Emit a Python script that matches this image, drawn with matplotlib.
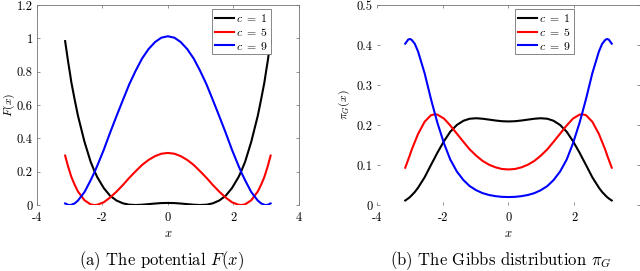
import numpy as np
import matplotlib
matplotlib.use('Agg')
import matplotlib.pyplot as plt
from matplotlib.ticker import FuncFormatter

plt.rcParams['font.family'] = ['cmr10', 'DejaVu Serif']
plt.rcParams['mathtext.fontset'] = 'cm'
plt.rcParams['axes.unicode_minus'] = False
plt.rcParams['axes.formatter.use_mathtext'] = True

# %% data
x = [-3.14, -3.05, -3.00, -2.95, -2.85, -2.75, -2.55, -2.36, -2.25, -2.16, -1.96,
     -1.77, -1.57, -1.37, -1.18, -0.98, -0.79, -0.59, -0.39, -0.20, 0.00,
     0.20, 0.39, 0.59, 0.79, 0.98, 1.18, 1.37, 1.57, 1.77, 1.96,
     2.16, 2.25, 2.36, 2.55, 2.75, 2.85, 2.95, 3.00, 3.05, 3.14]
labels = [r'$c\;=\;1$', r'$c\;=\;5$', r'$c\;=\;9$']
colors = ['k', (1, 0, 0), (0, 0, 1)]

F_c1 = [0.9834, 0.8617, 0.8000, 0.7362, 0.6341, 0.5373, 0.3803, 0.2590, 0.2063, 0.1679, 0.1019,
        0.0563, 0.0269, 0.0099, 0.0019, 0.0000, 0.0018, 0.0053, 0.0089, 0.0116, 0.0125,
        0.0116, 0.0089, 0.0053, 0.0018, 0.0000, 0.0019, 0.0099, 0.0269, 0.0563, 0.1019,
        0.1679, 0.2063, 0.2590, 0.3803, 0.5373, 0.6341, 0.7362, 0.8000, 0.8617, 0.9834]
F_c5 = [0.2964, 0.2314, 0.2000, 0.1688, 0.1219, 0.0817, 0.0287, 0.0038, 0.0000, 0.0014, 0.0164,
        0.0441, 0.0802, 0.1210, 0.1631, 0.2036, 0.2402, 0.2706, 0.2935, 0.3077, 0.3125,
        0.3077, 0.2935, 0.2706, 0.2402, 0.2036, 0.1631, 0.1210, 0.0802, 0.0441, 0.0164,
        0.0014, 0.0000, 0.0038, 0.0287, 0.0817, 0.1219, 0.1688, 0.2000, 0.2314, 0.2964]
F_c9 = [0.0095, 0.0011, 0.0000, 0.0013, 0.0096, 0.0261, 0.0772, 0.1486, 0.1938, 0.2349, 0.3308,
        0.4318, 0.5334, 0.6321, 0.7243, 0.8073, 0.8785, 0.9359, 0.9781, 1.0039, 1.0125,
        1.0039, 0.9781, 0.9359, 0.8785, 0.8073, 0.7243, 0.6321, 0.5334, 0.4318, 0.3308,
        0.2349, 0.1938, 0.1486, 0.0772, 0.0261, 0.0096, 0.0013, 0.0000, 0.0011, 0.0095]

pi_c1 = [0.0113, 0.0164, 0.0197, 0.0238, 0.0324, 0.0433, 0.0693, 0.0997, 0.1168, 0.1311, 0.1598,
         0.1832, 0.2001, 0.2106, 0.2157, 0.2169, 0.2157, 0.2135, 0.2112, 0.2095, 0.2089,
         0.2095, 0.2112, 0.2135, 0.2157, 0.2169, 0.2157, 0.2106, 0.2001, 0.1832, 0.1598,
         0.1311, 0.1168, 0.0997, 0.0693, 0.0433, 0.0324, 0.0238, 0.0197, 0.0164, 0.0113]
pi_c5 = [0.0933, 0.1133, 0.1245, 0.1368, 0.1574, 0.1776, 0.2082, 0.2243, 0.2269, 0.2259, 0.2160,
         0.1988, 0.1784, 0.1579, 0.1391, 0.1232, 0.1104, 0.1007, 0.0941, 0.0901, 0.0889,
         0.0901, 0.0941, 0.1007, 0.1104, 0.1232, 0.1391, 0.1579, 0.1784, 0.1988, 0.2160,
         0.2259, 0.2269, 0.2243, 0.2082, 0.1776, 0.1574, 0.1368, 0.1245, 0.1133, 0.0933]
pi_c9 = [0.4034, 0.4136, 0.4150, 0.4133, 0.4032, 0.3838, 0.3293, 0.2657, 0.2320, 0.2051, 0.1538,
         0.1136, 0.0837, 0.0623, 0.0473, 0.0369, 0.0298, 0.0250, 0.0221, 0.0204, 0.0199,
         0.0204, 0.0221, 0.0250, 0.0298, 0.0369, 0.0473, 0.0623, 0.0837, 0.1136, 0.1538,
         0.2051, 0.2320, 0.2657, 0.3293, 0.3838, 0.4032, 0.4133, 0.4150, 0.4136, 0.4034]

# %% figure
fig = plt.figure(figsize=(6.4, 2.71), dpi=100)
ax1 = fig.add_axes([0.0578, 0.2435, 0.409, 0.738])
ax2 = fig.add_axes([0.589, 0.2435, 0.411, 0.738])

fmt = FuncFormatter(lambda v, pos: '%g' % v)
fs = 9


def style(ax, ylim, yticks, xticks, ylabel, leg_x, ylab_x):
    ax.set_xlim(-4, 4)
    ax.set_ylim(*ylim)
    ax.set_xticks(xticks)
    ax.set_yticks(yticks)
    ax.xaxis.set_major_formatter(fmt)
    ax.yaxis.set_major_formatter(fmt)
    ax.tick_params(direction='in', length=2.5, width=0.5, color='0.4',
                   top=True, right=True, labelsize=fs, pad=3)
    ax.tick_params(axis='x', pad=5)
    for s in ax.spines.values():
        s.set_linewidth(0.6)
        s.set_color('0.45')
    ax.spines['bottom'].set_visible(False)
    ax.set_xlabel('$x$', fontsize=fs)
    ax.set_ylabel(ylabel, fontsize=8.5)
    ax.xaxis.set_label_coords(0.5, -0.115)
    ax.yaxis.set_label_coords(ylab_x, 0.5)
    leg = ax.legend(loc='upper left', bbox_to_anchor=(leg_x, 0.98), fontsize=8.5,
                    handlelength=1.6, handletextpad=0.2, labelspacing=0.15,
                    borderpad=0.25, borderaxespad=0, fancybox=False, framealpha=1)
    leg.get_frame().set_edgecolor('0.45')
    leg.get_frame().set_linewidth(0.6)


for vals, lab, col in zip([F_c1, F_c5, F_c9], labels, colors):
    ax1.plot(x, vals, color=col, lw=1.5, label=lab)
for vals, lab, col in zip([pi_c1, pi_c5, pi_c9], labels, colors):
    ax2.plot(x, vals, color=col, lw=1.5, label=lab)

style(ax1, (0, 1.2), [0, 0.2, 0.4, 0.6, 0.8, 1, 1.2], [-4, -2, 0, 2, 4], '$F(x)$', 0.669, -0.078)
style(ax2, (0, 0.5), [0, 0.1, 0.2, 0.3, 0.4, 0.5], [-4, -2, 0, 2], r'$\pi_G(x)$', 0.525, -0.095)
ax2.spines['left'].set_visible(False)

fig.text(0.252, 0.037, '(a) The potential $F(x)$', ha='center', va='center', fontsize=12)
fig.text(0.782, 0.037, r'(b) The Gibbs distribution $\pi_G$', ha='center', va='center', fontsize=12)

fig.savefig('out.png', dpi=100)
